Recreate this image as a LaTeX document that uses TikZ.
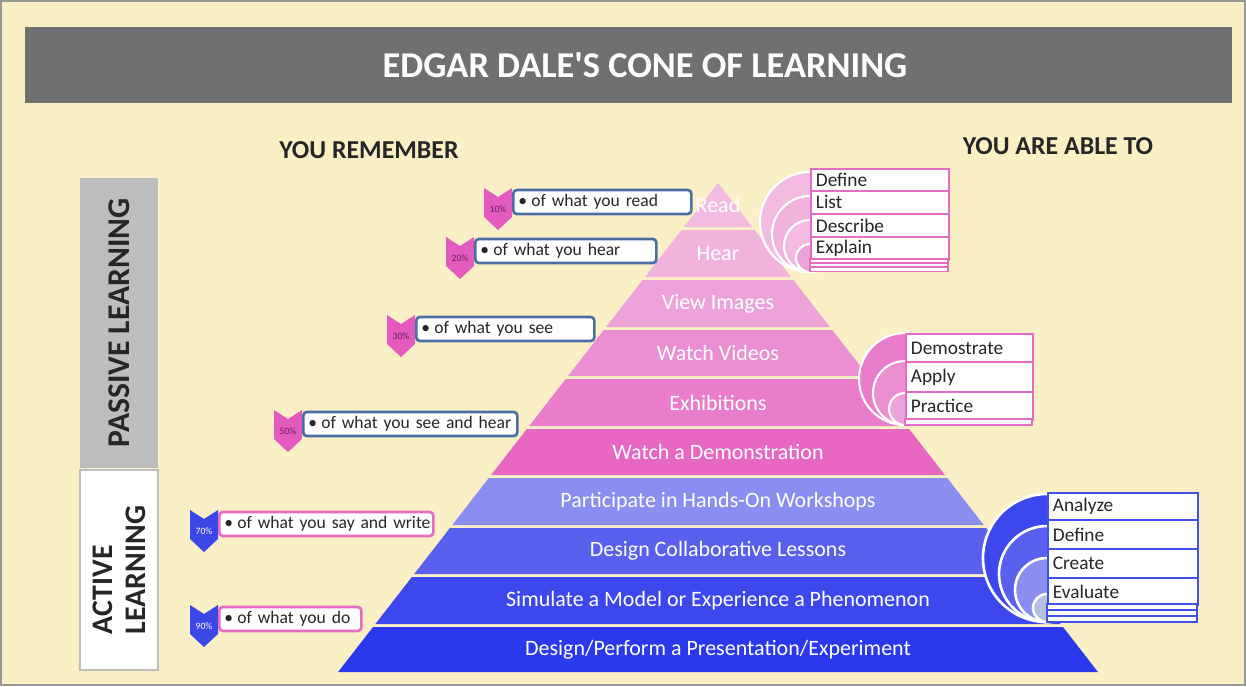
\documentclass[tikz,border=0pt]{standalone}
\usepackage{fontspec}
\setmainfont{Carlito}
\newfontfamily\titfont{Carlito}
\usepackage{xcolor}
\definecolor{fondo}{HTML}{FBEFC5}
\definecolor{titulo}{HTML}{707070}
\definecolor{barra}{HTML}{BDBDBD}
\definecolor{txtgris}{HTML}{262626}
\definecolor{capaA}{HTML}{F3BBE1}
\definecolor{capaB}{HTML}{F1B3DE}
\definecolor{capaC}{HTML}{EDA2D9}
\definecolor{capaD}{HTML}{EB8FD2}
\definecolor{capaE}{HTML}{E97DCB}
\definecolor{capaF}{HTML}{E767C2}
\definecolor{capaG}{HTML}{8A8EF0}
\definecolor{capaH}{HTML}{5960EE}
\definecolor{capaI}{HTML}{3C47EE}
\definecolor{capaJ}{HTML}{2A39EE}
\definecolor{circGris}{HTML}{B4C0E2}
\definecolor{chevrosa}{HTML}{E45BC0}
\definecolor{chevazul}{HTML}{3A46E6}
\definecolor{borazul}{HTML}{4A6FA5}
\definecolor{borrosa}{HTML}{E56BC4}
\definecolor{borazulf}{HTML}{4050E8}
\definecolor{pctrosa}{HTML}{6A1E58}

\begin{document}
\begin{tikzpicture}[x=0.02cm,y=-0.02cm,
  rowtext/.style={text=white,font=\fontsize{12.5}{14}\selectfont},
  rembox/.style={draw=#1,line width=1.5pt,fill=white,rounded corners=2pt,inner xsep=0.1cm,inner ysep=0pt,
    minimum height=0.48cm,align=left,font=\fontsize{10}{12}\selectfont,text=txtgris,anchor=west},
  pct/.style={text=#1,font=\fontsize{5.5}{6}\selectfont,inner sep=0pt},
  ablebox/.style={draw=#1,line width=1pt,fill=white,inner xsep=0.1cm,inner ysep=0pt,align=left,
    font=\fontsize{11}{13}\selectfont,text=txtgris,anchor=north west},
  head/.style={font=\bfseries\fontsize{14.7}{17}\selectfont,text=txtgris}]

\useasboundingbox (0,0) rectangle (1246,686);
\fill[fondo] (0,0) rectangle (1246,686);
\draw[gray!80,line width=1.2pt] (1,1) rectangle (1245,685); % marco

\node[fill=titulo,minimum width=24.14cm,minimum height=1.52cm] (titlebar) at (628.5,65) {};
\node[text=white,font=\titfont\bfseries\fontsize{20.7}{24}\selectfont] (title) at (645,65) {EDGAR DALE'S CONE OF LEARNING};
\node[head] (remember) at (369,150) {YOU REMEMBER};
\node[head] (ableto) at (1058,146) {YOU ARE ABLE TO};

% barra izquierda
\node[fill=barra,rotate=90,minimum width=5.8cm,minimum height=1.56cm,text=txtgris,
  font=\bfseries\fontsize{18}{20}\selectfont] (passive) at (119,323) {PASSIVE LEARNING};
\node[draw=barra,line width=1.5pt,fill=white,rotate=90,minimum width=4cm,minimum height=1.56cm,text=txtgris,
  align=left,font=\bfseries\fontsize{17}{19}\selectfont] (active) at (119,570) {ACTIVE\\LEARNING};

% piramide
\foreach \t/\b/\c/\txt [count=\i] in {183/230/capaA/Read, 230/280/capaB/Hear, 280/330/capaC/View Images,
    330/379/capaD/Watch Videos, 379/429/capaE/Exhibitions, 429/478/capaF/Watch a Demonstration,
    478/528/capaG/Participate in Hands-On Workshops, 528/577/capaH/Design Collaborative Lessons,
    577/627/capaI/Simulate a Model or Experience a Phenomenon, 627/675/capaJ/{Design/Perform a Presentation/Experiment}}
{
  \pgfmathsetmacro\wt{0.777*(\t-183)}
  \pgfmathsetmacro\wb{0.777*(\b-3-183)}
  \fill[\c] (718-\wt,\t) -- (718+\wt,\t) -- (718+\wb,\b-3) -- (718-\wb,\b-3) -- cycle;
  \node[rowtext] (capa\i) at (718,{(\t+\b-3)/2}) {\txt};
}

% porcentajes
\foreach \x/\y/\w/\c/\bc/\pc/\tc/\txt in {484/188/178/chevrosa/borazul/10/pctrosa/of what you read,
    446/237/181/chevrosa/borazul/20/pctrosa/of what you hear, 387/315/178/chevrosa/borazul/30/pctrosa/of what you see,
    274/410/214/chevrosa/borazul/50/pctrosa/of what you see and hear,
    190/510/214/chevazul/borrosa/70/white/of what you say and write, 190/605/142/chevazul/borrosa/90/white/of what you do}
{
  \fill[\c] (\x,\y) -- (\x+14,\y+9) -- (\x+28,\y) -- (\x+28,\y+29) -- (\x+14,\y+42) -- (\x,\y+29) -- cycle;
  \node[pct=\tc] (pct\pc) at (\x+14,\y+21) {\pc\%};
  \node[rembox=\bc,text width={(\w-10)*0.02cm}] (rem\pc) at (\x+28,\y+14) {\mbox{\textbullet\hspace{2.5pt}\txt}};
}

% define, list ...
\foreach \r/\c in {50/capaA, 38/capaB, 26/capaA, 14/capaC}
  \filldraw[fill=\c,draw=white,line width=1.2pt] (810,272-\r) circle[radius=\r*0.02cm];
\foreach \yt/\yb/\txt [count=\i] in {168/190/Define, 190/213/List, 213/236/Describe, 236/259/Explain}
  \node[ablebox=borrosa,text width=2.56cm,minimum height={(\yb-\yt)*0.02cm}] (uno\i) at (810,\yt) {\txt};
\foreach \yt in {259,263,267}
  \draw[borrosa,fill=white,line width=0.8pt] (810,\yt) rectangle (948,\yt+4.5);

% demostrate ...
\foreach \r/\c in {46/capaE, 32/capaD, 16/capaC}
  \filldraw[fill=\c,draw=white,line width=1.2pt] (905,425-\r) circle[radius=\r*0.02cm];
\foreach \yt/\yb/\txt [count=\i] in {333/361/Demostrate, 361/391/Apply, 391/419/Practice}
  \node[ablebox=borrosa,text width=2.34cm,minimum height={(\yb-\yt)*0.02cm}] (dos\i) at (905,\yt) {\txt};
\draw[borrosa,fill=white,line width=0.8pt] (905,419) rectangle (1032,425);

% analyze ...
\foreach \r/\c in {64/capaI, 48/capaH, 32/capaG, 14/circGris}
  \filldraw[fill=\c,draw=white,line width=1.5pt] (1047,622-\r) circle[radius=\r*0.02cm];
\foreach \yt/\yb/\txt [count=\i] in {492/519/Analyze, 519/548/Define, 548/577/Create, 577/604/Evaluate}
  \node[ablebox=borazulf,text width=2.8cm,minimum height={(\yb-\yt)*0.02cm}] (tres\i) at (1047,\yt) {\txt};
\foreach \yt in {604,610,616}
  \draw[borazulf,fill=white,line width=0.8pt] (1047,\yt) rectangle (1197,\yt+6);
\end{tikzpicture}
\end{document}
